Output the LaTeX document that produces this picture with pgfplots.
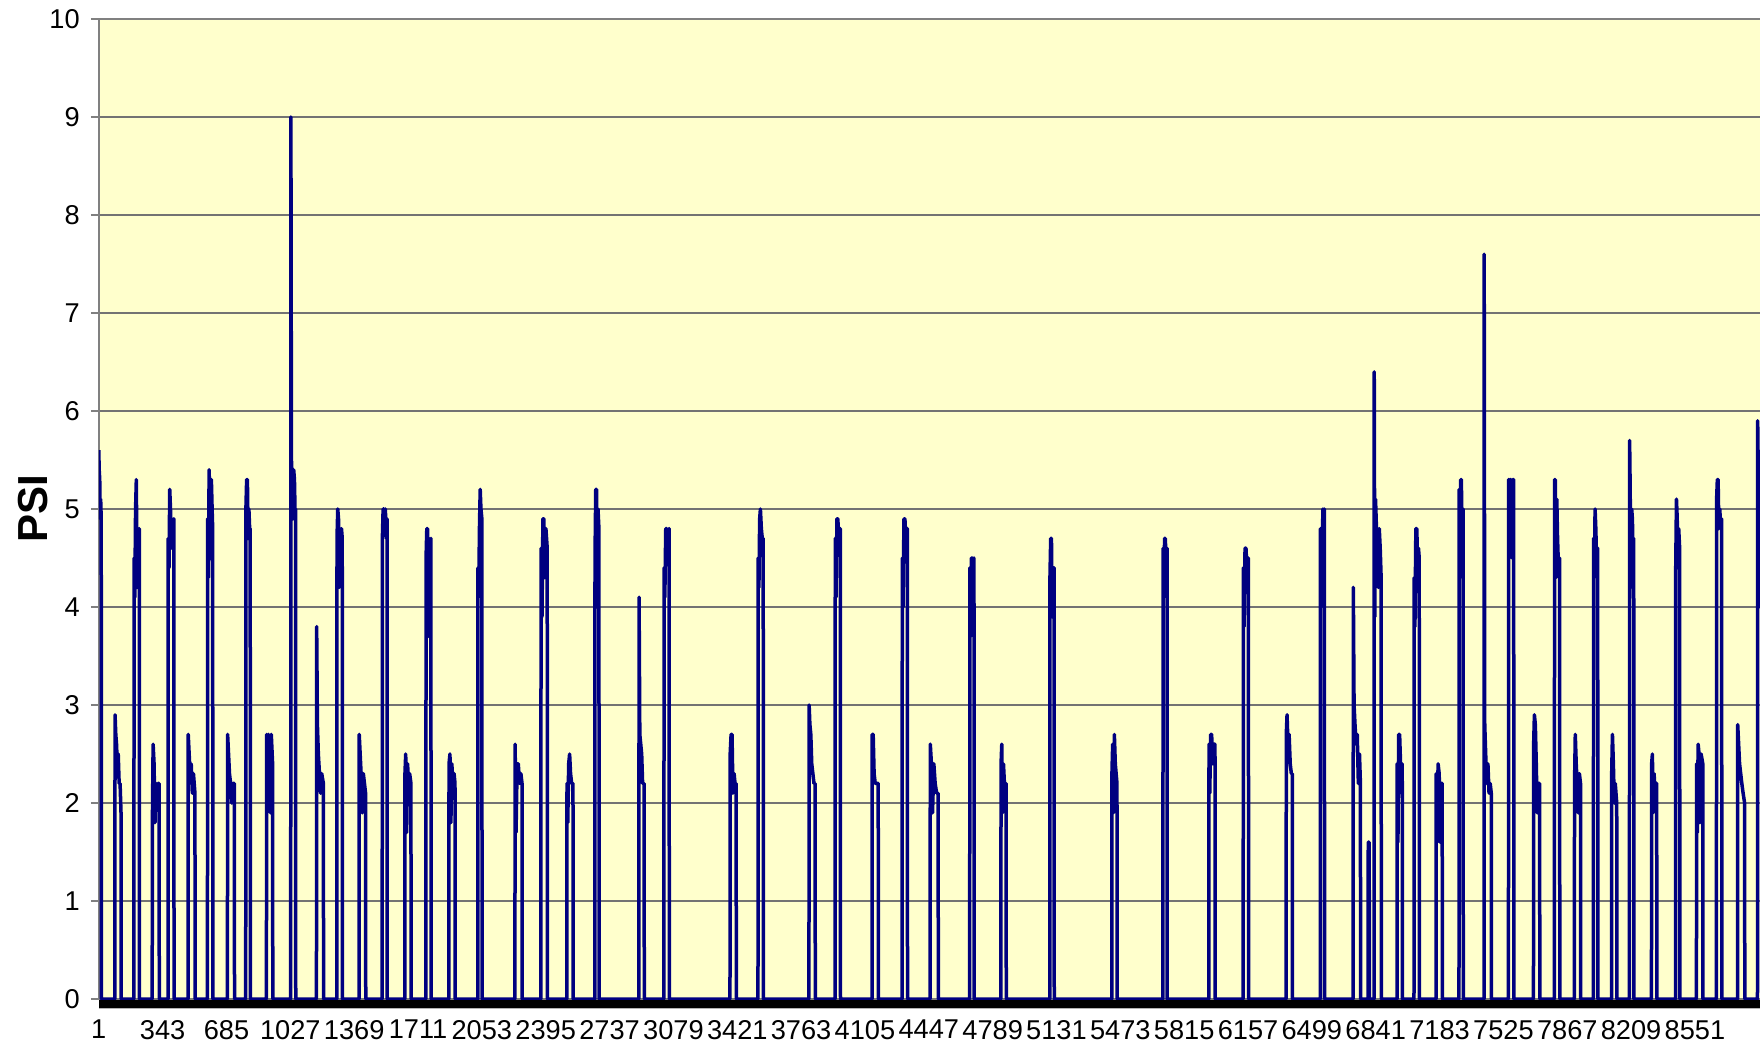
\documentclass[border=0pt]{standalone}
\usepackage{fontspec}
\setmainfont{Liberation Sans}
\usepackage{pgfplots}
\pgfplotsset{compat=1.18}
\definecolor{chartbg}{HTML}{FFFFCC}
\definecolor{psiline}{RGB}{0,0,128}
\definecolor{gridgray}{RGB}{128,128,128}

\begin{document}
\begin{tikzpicture}
\path[use as bounding box] (0,0) rectangle (880pt,522.5pt);
\begin{axis}[
    at={(49.4pt,23pt)}, anchor=south west,
    scale only axis, width=832.6pt, height=490pt,
    xmin=1, xmax=8921, ymin=0, ymax=10,
    axis background/.style={fill=chartbg},
    axis line style={gridgray, line width=1pt},
    ytick={0,1,...,10},
    ymajorgrids, grid style={gridgray!90!black, line width=0.6pt},
    ytick align=outside, ytick pos=left, major tick length=4pt,
    ytick style={gridgray, line width=0.6pt},
    xtick={1,343,685,1027,1369,1711,2053,2395,2737,3079,3421,3763,4105,4447,4789,5131,5473,5815,6157,6499,6841,7183,7525,7867,8209,8551},
    xticklabels={1,343,685,1027,1369,1711,2053,2395,2737,3079,3421,3763,4105,4447,4789,5131,5473,5815,6157,6499,6841,7183,7525,7867,8209,8551},
    xtick style={draw=none},
    xticklabel style={yshift=-7pt},
    yticklabel style={xshift=-2pt},
    tick label style={font=\fontsize{13.6}{16}\selectfont},
    /pgf/number format/assume math mode=true,
    ylabel={PSI},
    ylabel style={font=\fontsize{21}{25}\selectfont\bfseries, at={(axis description cs:-0.0395,0.5)}, anchor=center},
    after end axis/.code={
        \fill[black] ([yshift=-0.5pt]rel axis cs:0,0) rectangle ([yshift=-4.5pt]rel axis cs:1,0);
        \draw[gridgray!60, line width=0.5pt] ([yshift=-4.75pt]rel axis cs:0,0) -- ([yshift=-4.75pt]rel axis cs:1,0);
    },
]
\addplot[psiline, line width=1.75pt, line join=round] coordinates {
(1,5.6)(3,5.4)(6,5.3)(8,4.9)(11,5.1)(14,4.9)(15,0)
(87,0)(88,2.9)(92,2.7)(96,2.6)(100,2.4)(105,2.5)(110,2.2)(115,2.2)(120,1.9)(121,0)
(189,0)(190,4.5)(194,4.1)(198,5.0)(202,5.3)(206,4.2)(210,4.8)(214,4.6)(218,4.8)(219,0)
(287,0)(288,1.8)(292,2.6)(297,2.4)(302,1.8)(307,2.2)(312,2.0)(318,2.2)(324,2.2)(325,0)
(372,0)(373,4.7)(377,4.4)(381,5.2)(385,5.0)(389,4.6)(393,4.9)(398,4.8)(403,4.9)(404,0)
(479,0)(480,2.7)(485,2.5)(490,2.3)(496,2.4)(502,2.1)(508,2.3)(516,2.1)(517,0)
(583,0)(584,4.9)(588,4.3)(592,5.4)(596,5.0)(600,4.5)(604,5.3)(608,5.0)(611,4.8)(612,0)
(690,0)(691,2.7)(696,2.5)(701,2.3)(707,2.2)(713,2.0)(720,2.2)(727,2.2)(728,0)
(788,0)(789,5.0)(793,5.3)(797,5.3)(801,4.7)(805,5.0)(809,4.8)(812,4.8)(813,0)
(899,0)(900,2.7)(905,2.2)(910,2.7)(915,2.4)(920,1.9)(925,2.7)(932,2.4)(933,0)
(1029,0)(1030,9.0)(1033,5.5)(1037,5.3)(1041,4.9)(1045,5.4)(1049,5.3)(1053,4.9)(1055,5.0)(1056,0)
(1167,0)(1168,3.8)(1172,2.8)(1177,2.5)(1183,2.3)(1189,2.1)(1195,2.3)(1204,2.2)(1205,0)
(1276,0)(1277,4.7)(1281,5.0)(1285,4.9)(1289,4.2)(1293,4.8)(1297,4.6)(1301,4.8)(1305,4.7)(1306,0)
(1395,0)(1396,2.7)(1401,2.5)(1406,2.3)(1412,1.9)(1418,2.3)(1424,2.2)(1430,2.1)(1431,0)
(1519,0)(1520,4.7)(1524,5.0)(1528,5.0)(1532,4.8)(1536,5.0)(1541,4.7)(1545,4.9)(1546,0)
(1640,0)(1641,2.3)(1645,2.5)(1650,1.7)(1655,2.4)(1660,2.2)(1666,2.3)(1673,2.2)(1674,0)
(1753,0)(1754,4.5)(1758,4.8)(1762,4.8)(1766,3.7)(1770,4.7)(1775,4.6)(1780,4.7)(1781,0)
(1876,0)(1877,2.4)(1882,2.5)(1887,1.8)(1892,2.4)(1898,2.2)(1904,2.3)(1909,2.2)(1910,0)
(2031,0)(2032,4.4)(2036,4.1)(2040,4.8)(2044,5.2)(2048,5.0)(2053,4.9)(2054,0)
(2230,0)(2231,2.6)(2236,1.7)(2242,2.4)(2248,2.4)(2255,2.2)(2262,2.3)(2268,2.2)(2269,0)
(2369,0)(2370,4.6)(2375,3.9)(2380,4.9)(2385,4.9)(2390,4.3)(2396,4.8)(2403,4.6)(2404,0)
(2508,0)(2509,2.2)(2513,1.8)(2518,2.4)(2523,2.5)(2528,2.3)(2534,2.2)(2541,2.2)(2542,0)
(2658,0)(2659,4.5)(2663,5.2)(2667,5.2)(2671,4.0)(2675,5.0)(2680,4.8)(2681,0)
(2894,0)(2895,4.1)(2899,2.7)(2904,2.6)(2909,2.5)(2914,2.2)(2922,2.2)(2923,0)
(3028,0)(3029,4.4)(3033,4.1)(3038,4.8)(3043,4.8)(3048,4.6)(3056,4.8)(3057,0)
(3382,0)(3383,2.5)(3388,2.7)(3393,2.7)(3398,2.1)(3404,2.3)(3409,2.2)(3415,2.2)(3416,0)
(3532,0)(3533,4.5)(3537,4.2)(3541,4.9)(3545,5.0)(3550,4.8)(3555,4.7)(3560,4.7)(3561,0)
(3805,0)(3806,3.0)(3810,2.8)(3815,2.7)(3820,2.4)(3826,2.3)(3832,2.2)(3838,2.2)(3839,0)
(3945,0)(3946,4.7)(3950,4.1)(3955,4.9)(3960,4.9)(3965,4.6)(3973,4.8)(3974,0)
(4143,0)(4144,2.7)(4149,2.7)(4154,2.3)(4160,2.2)(4166,2.2)(4176,2.2)(4177,0)
(4304,0)(4305,4.5)(4309,4.0)(4314,4.9)(4319,4.9)(4324,4.7)(4332,4.8)(4333,0)
(4454,0)(4455,2.6)(4461,2.4)(4467,1.9)(4474,2.4)(4481,2.2)(4489,2.1)(4497,2.1)(4498,0)
(4666,0)(4667,4.4)(4671,3.7)(4675,4.5)(4680,4.5)(4685,4.4)(4689,4.5)(4690,0)
(4833,0)(4834,2.4)(4838,2.6)(4842,1.9)(4847,2.4)(4852,2.2)(4861,2.2)(4862,0)
(5095,0)(5096,4.3)(5100,4.7)(5104,4.7)(5108,3.9)(5112,4.4)(5118,4.4)(5119,0)
(5427,0)(5428,2.3)(5432,2.6)(5436,1.9)(5441,2.7)(5446,2.4)(5455,2.2)(5456,0)
(5701,0)(5702,4.6)(5706,4.1)(5710,4.7)(5714,4.7)(5719,4.4)(5723,4.6)(5724,0)
(5947,0)(5948,2.6)(5952,2.1)(5957,2.7)(5962,2.7)(5968,2.4)(5974,2.6)(5980,2.6)(5981,0)
(6131,0)(6132,4.4)(6136,3.8)(6141,4.6)(6146,4.6)(6151,4.4)(6159,4.5)(6160,0)
(6361,0)(6362,2.7)(6366,2.9)(6371,2.6)(6377,2.7)(6383,2.4)(6389,2.3)(6394,2.3)(6395,0)
(6544,0)(6545,4.8)(6549,4.0)(6554,4.5)(6558,5.0)(6562,4.8)(6566,5.0)(6567,0)
(6720,0)(6721,4.2)(6725,3.0)(6730,2.8)(6736,2.6)(6742,2.7)(6748,2.2)(6754,2.5)(6759,2.2)(6760,0)
(6800,0)(6801,1.6)(6806,1.6)(6807,0)
(6832,0)(6833,6.4)(6836,3.9)(6840,5.1)(6845,4.8)(6850,4.6)(6855,4.2)(6860,4.8)(6865,4.6)(6870,4.3)(6871,0)
(6955,0)(6956,2.4)(6960,1.6)(6964,2.7)(6969,2.7)(6974,2.4)(6978,2.1)(6983,2.4)(6984,0)
(7046,0)(7047,4.3)(7051,3.8)(7056,4.8)(7061,4.8)(7066,4.4)(7070,4.6)(7074,4.5)(7075,0)
(7164,0)(7165,2.3)(7170,1.6)(7175,2.4)(7181,2.3)(7186,1.6)(7192,2.2)(7197,2.2)(7198,0)
(7287,0)(7288,5.2)(7292,4.5)(7296,5.3)(7300,5.3)(7304,4.3)(7309,5.0)(7310,0)
(7421,0)(7422,7.6)(7425,2.8)(7430,2.5)(7436,2.2)(7442,2.4)(7448,2.1)(7454,2.2)(7460,2.1)(7461,0)
(7552,0)(7553,5.3)(7557,4.7)(7561,5.3)(7566,5.3)(7571,4.5)(7575,5.3)(7580,5.3)(7581,0)
(7686,0)(7687,2.6)(7691,2.9)(7696,2.8)(7701,2.4)(7706,1.9)(7712,2.2)(7719,2.2)(7720,0)
(7798,0)(7799,5.3)(7803,5.3)(7807,4.3)(7811,5.1)(7815,4.7)(7820,4.4)(7826,4.5)(7827,0)
(7905,0)(7906,2.2)(7910,2.7)(7915,2.4)(7920,2.2)(7926,1.9)(7932,2.3)(7938,2.2)(7939,0)
(8007,0)(8008,4.7)(8012,4.3)(8016,5.0)(8020,4.8)(8025,4.4)(8030,4.6)(8031,0)
(8104,0)(8105,2.3)(8109,2.7)(8114,2.4)(8119,2.0)(8124,2.2)(8132,2.0)(8133,0)
(8200,0)(8201,5.7)(8204,5.2)(8208,4.2)(8212,5.0)(8216,4.9)(8220,4.4)(8223,4.7)(8224,0)
(8318,0)(8319,2.4)(8323,2.5)(8327,1.9)(8332,2.3)(8338,2.1)(8346,2.2)(8347,0)
(8447,0)(8448,4.4)(8452,5.1)(8456,4.9)(8460,4.4)(8464,4.8)(8469,4.6)(8470,0)
(8559,0)(8560,2.4)(8564,1.7)(8568,2.6)(8573,2.5)(8578,1.8)(8584,2.5)(8593,2.4)(8594,0)
(8666,0)(8667,5.1)(8671,5.3)(8675,5.3)(8679,4.8)(8684,5.0)(8689,4.8)(8694,4.9)(8695,0)
(8779,0)(8780,2.8)(8785,2.6)(8790,2.4)(8796,2.3)(8802,2.2)(8809,2.1)(8817,2.0)(8818,0)
(8886,0)(8887,5.9)(8891,5.2)(8895,4.0)(8899,5.2)(8903,5.0)(8908,4.8)(8913,0)(8921,0)
};
\end{axis}
\end{tikzpicture}
\end{document}
